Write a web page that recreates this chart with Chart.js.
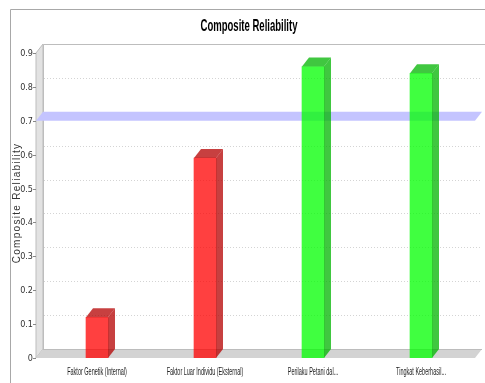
<!DOCTYPE html>
<html>
<head>
<meta charset="utf-8">
<script src="https://cdn.jsdelivr.net/npm/chart.js@4.4.1/dist/chart.umd.min.js"></script>
<style>
    html, body { margin: 0; padding: 0; background: #fff; }
    canvas { display: block; }
</style>
</head>
<body>
<canvas id="crChart" width="485" height="383"></canvas>
<script>
const categories = ['Faktor Genetik (Internal)', 'Faktor Luar Individu (Eksternal)', 'Perilaku Petani dal...', 'Tingkat Keberhasil...'];
const reliability = [0.12, 0.59, 0.86, 0.84];
const threshold = 0.7;
const yMin = 0;
const yMax = 0.9;
const yStep = 0.1;

// 3D depth offset (px)
const DX = 7, DY = 9;

const front = v => v >= threshold ? 'rgba(0,255,0,0.75)' : 'rgba(255,0,0,0.75)';
const shade = v => v >= threshold ? 'rgba(0,180,0,0.75)' : 'rgba(180,0,0,0.75)';

function poly(ctx, pts, fill, stroke) {
    ctx.beginPath();
    ctx.moveTo(pts[0][0], pts[0][1]);
    pts.slice(1).forEach(p => ctx.lineTo(p[0], p[1]));
    ctx.closePath();
    if (fill) { ctx.fillStyle = fill; ctx.fill(); }
    if (stroke) { ctx.strokeStyle = stroke; ctx.lineWidth = 1; ctx.stroke(); }
}

const plot3d = {
    id: 'plot3d',
    beforeDraw(chart) {
        const ctx = chart.ctx;
        ctx.save();
        // outer frame
        ctx.strokeStyle = '#a8a8a8';
        ctx.lineWidth = 1;
        ctx.beginPath();
        ctx.moveTo(10.5, 383);
        ctx.lineTo(10.5, 9.5);
        ctx.lineTo(485, 9.5);
        ctx.stroke();

        // title
        ctx.font = 'bold 17px "Liberation Sans", Arial, sans-serif';
        ctx.fillStyle = '#000';
        ctx.textAlign = 'center';
        ctx.textBaseline = 'alphabetic';
        const w = ctx.measureText('Composite Reliability').width;
        ctx.translate(249, 31);
        ctx.scale(97 / w, 1);
        ctx.fillText('Composite Reliability', 0, 0);
        ctx.restore();
    },
    beforeDatasetsDraw(chart) {
        const ctx = chart.ctx;
        const y = chart.scales.y;
        const a = chart.chartArea;
        const L = a.left - DX, R = a.right;
        const top = y.getPixelForValue(yMax), bot = y.getPixelForValue(yMin);
        ctx.save();

        // left wall
        poly(ctx, [[L, top], [L + DX, top - DY], [L + DX, bot - DY], [L, bot]], '#e2e2e2', '#bdbdbd');
        // back wall edges
        ctx.strokeStyle = '#bdbdbd';
        ctx.beginPath();
        ctx.moveTo(L + DX + 0.5, bot - DY);
        ctx.lineTo(L + DX + 0.5, top - DY + 0.5);
        ctx.lineTo(485, top - DY + 0.5);
        ctx.stroke();

        // gridlines on back wall
        ctx.setLineDash([1, 2]);
        ctx.strokeStyle = '#d4d4d4';
        y.ticks.forEach(t => {
            if (t.value <= yMin || t.value >= yMax) return;
            const py = Math.round(y.getPixelForValue(t.value) - DY) + 0.5;
            ctx.beginPath();
            ctx.moveTo(L + DX + 1, py);
            ctx.lineTo(R + DX, py);
            ctx.stroke();
        });
        ctx.setLineDash([]);

        // tick marks + labels on the front axis
        ctx.strokeStyle = '#888';
        ctx.fillStyle = '#333';
        ctx.font = '9px "Liberation Sans Narrow", "DejaVu Sans Condensed", Arial, sans-serif';
        ctx.textAlign = 'right';
        ctx.textBaseline = 'middle';
        y.ticks.forEach(t => {
            const py = Math.round(y.getPixelForValue(t.value)) + 0.5;
            ctx.beginPath();
            ctx.moveTo(L - 3, py);
            ctx.lineTo(L, py);
            ctx.stroke();
            ctx.fillText(t.label, L - 3, py);
        });

        // floor
        poly(ctx, [[L, bot], [R, bot], [R + DX, bot - DY], [L + DX, bot - DY]], '#d3d3d3', null);
        ctx.strokeStyle = '#bcbcbc';
        ctx.beginPath();
        ctx.moveTo(L + DX, bot - DY + 0.5);
        ctx.lineTo(R + DX, bot - DY + 0.5);
        ctx.stroke();

        // threshold band
        const ty = y.getPixelForValue(threshold);
        poly(ctx, [[L, ty], [R, ty], [R + DX, ty - DY], [L + DX, ty - DY]], '#c4c4ff', null);
        ctx.restore();
    },
    afterDatasetsDraw(chart) {
        const ctx = chart.ctx;
        const meta = chart.getDatasetMeta(0);
        ctx.save();
        meta.data.forEach((bar, i) => {
            const v = reliability[i];
            const l = bar.x - bar.width / 2, r = bar.x + bar.width / 2;
            const t = bar.y, b = bar.base;
            poly(ctx, [[l, t], [r, t], [r + DX, t - DY], [l + DX, t - DY]], shade(v), null);
            poly(ctx, [[r, t], [r + DX, t - DY], [r + DX, b - DY], [r, b]], shade(v), null);
        });
        ctx.restore();
    },
    afterDraw(chart) {
        const ctx = chart.ctx;
        const x = chart.scales.x;
        ctx.save();
        ctx.font = '10px "Liberation Sans", Arial, sans-serif';
        ctx.fillStyle = '#222';
        ctx.textAlign = 'center';
        ctx.textBaseline = 'alphabetic';
        categories.forEach((c, i) => {
            ctx.save();
            ctx.translate(x.getPixelForValue(i), 375);
            ctx.scale(0.55, 1);
            ctx.fillText(c, 0, 0);
            ctx.restore();
        });
        ctx.restore();

        // y axis title
        ctx.save();
        ctx.translate(17, 203);
        ctx.rotate(-Math.PI / 2);
        ctx.font = '10px "Liberation Sans", Arial, sans-serif';
        ctx.letterSpacing = '1.3px';
        ctx.fillStyle = '#333';
        ctx.textAlign = 'center';
        ctx.textBaseline = 'middle';
        ctx.fillText('Composite Reliability', 0, 0);
        ctx.restore();
    }
};

const crChart = new Chart(document.getElementById('crChart').getContext('2d'), {
    type: 'bar',
    data: {
        labels: categories,
        datasets: [{
            data: reliability,
            backgroundColor: reliability.map(front),
            borderWidth: 0,
            barThickness: 22
        }]
    },
    options: {
        responsive: false,
        animation: false,
        layout: { padding: { top: 53, right: 10, bottom: 25, left: 0 } },
        plugins: { legend: { display: false }, tooltip: { enabled: false } },
        scales: {
            x: { display: false },
            y: {
                min: yMin,
                max: yMax,
                grid: { display: false },
                border: { display: false },
                ticks: {
                    display: false,
                    stepSize: yStep,
                    callback: v => Number(v.toFixed(1)).toString()
                },
                afterFit: s => { s.width = 43; }
            }
        }
    },
    plugins: [plot3d]
});
</script>
</body>
</html>
